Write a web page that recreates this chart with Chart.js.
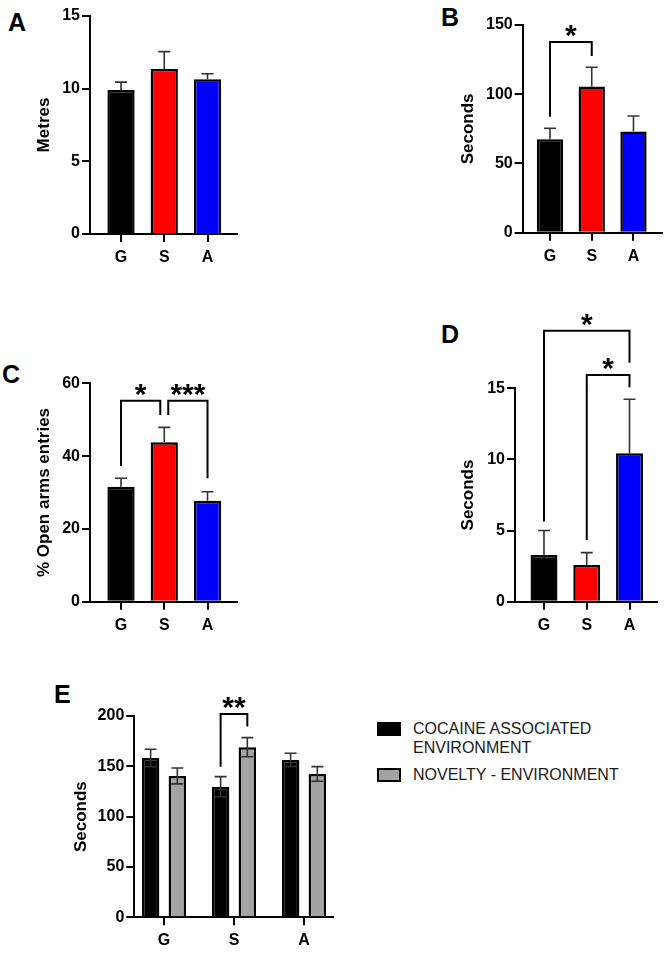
<!DOCTYPE html>
<html lang="en">
<head>
<meta charset="UTF-8">
<title>Behavioural panels A-E</title>
<script src="https://cdn.jsdelivr.net/npm/chart.js"></script>
<style>
body {
  margin: 0;
  background: #fff;
  font-family: "Liberation Sans", Arial, sans-serif;
}
#page {
  position: relative;
  width: 664px;
  height: 955px;
  overflow: hidden;
  background: #fff;
}
canvas { position: absolute; }
.panel-letter {
  position: absolute;
  font-weight: bold;
  font-size: 25px;
  line-height: 25px;
  color: #000;
}
#legend {
  position: absolute;
  left: 377px;
  top: 719px;
  font-size: 16px;
  line-height: 19.2px;
  color: #1a1a1a;
}
.legend-row { display: flex; align-items: flex-start; margin-bottom: 8px; }
.swatch {
  width: 24px;
  height: 14px;
  box-sizing: border-box;
  border: 2.5px solid #000;
  margin-top: 2.5px;
  margin-right: 12px;
  flex: none;
}
.legend-text { width: 240px; }
</style>
</head>
<body>
<div id="page">
  <div class="panel-letter" style="left:8px;top:10px">A</div>
  <div class="panel-letter" style="left:441px;top:5px">B</div>
  <div class="panel-letter" style="left:2px;top:362px">C</div>
  <div class="panel-letter" style="left:441px;top:322px">D</div>
  <div class="panel-letter" style="left:54px;top:682px">E</div>
  <div id="legend"></div>
</div>
<script>
// groups on every x axis
var groups = ['G', 'S', 'A'];

// A - distance travelled (metres)
var distanceMean = [9.9, 11.35, 10.65];
var distanceSem = [0.55, 1.2, 0.38];
var distanceTicks = [0, 5, 10, 15];

// B - seconds
var timeBMean = [67.5, 105.5, 73];
var timeBSem = [7.9, 14, 11.3];
var timeBTicks = [0, 50, 100, 150];

// C - % open arms entries
var openArmsMean = [31.6, 43.8, 27.7];
var openArmsSem = [2.3, 4.1, 2.5];
var openArmsTicks = [0, 20, 40, 60];

// D - seconds
var timeDMean = [3.28, 2.58, 10.43];
var timeDSem = [1.72, 0.87, 3.8];
var timeDTicks = [0, 5, 10, 15];

// E - place preference, two environments
var seriesNames = ['COCAINE ASSOCIATED ENVIRONMENT', 'NOVELTY - ENVIRONMENT'];
var cocaineMean = [158.3, 129.8, 156.4];
var cocaineSem = [8.7, 10, 6.6];
var noveltyMean = [140.5, 169, 142.4];
var noveltySem = [7.9, 9.5, 7.3];
var placeTicks = [0, 50, 100, 150, 200];

// significance brackets: [dataset, bar] ends, heights in axis units
var bracketsB = [{ from: [0, 0], to: [0, 1], top: 137.8, fromEnd: 83.8, toEnd: 127.7, label: '*' }];
var bracketsC = [
  { from: [0, 0], to: [0, 1], top: 55.2, fromEnd: 37.3, toEnd: 51.3, label: '*' },
  { from: [0, 1], to: [0, 2], top: 55.2, fromEnd: 51.3, toEnd: 33.9, label: '***' }
];
var bracketsD = [
  { from: [0, 0], to: [0, 2], top: 19.04, fromEnd: 5.63, toEnd: 16.8, label: '*' },
  { from: [0, 1], to: [0, 2], top: 15.94, fromEnd: 4.34, toEnd: 15.08, label: '*' }
];
var bracketsE = [{ from: [0, 1], to: [1, 1], top: 202.1, fromEnd: 149.7, toEnd: 189.5, label: '**' }];

var groupColors = ['#000000', '#ff0000', '#0000ff'];
var seriesColors = ['#000000', '#a3a3a3'];
var FONT = "'Liberation Sans', Arial, sans-serif";

var errorBars = {
  id: 'errorBars',
  afterDatasetsDraw: function(chart) {
    var ctx = chart.ctx;
    var ys = chart.scales.y;
    chart.data.datasets.forEach(function(ds, di) {
      var meta = chart.getDatasetMeta(di);
      meta.data.forEach(function(bar, i) {
        var v = ds.data[i].y, e = ds.errors[i];
        var x = bar.x;
        var top = ys.getPixelForValue(v + e);
        var bot = ys.getPixelForValue(v - e);
        ctx.save();
        ctx.strokeStyle = '#333';
        ctx.lineWidth = 1.6;
        ctx.beginPath();
        ctx.moveTo(x, ds.errorDir === 'both' ? bot : bar.y);
        ctx.lineTo(x, top);
        ctx.moveTo(x - 6, top);
        ctx.lineTo(x + 6, top);
        if (ds.errorDir === 'both') {
          ctx.moveTo(x - 6, bot);
          ctx.lineTo(x + 6, bot);
        }
        ctx.stroke();
        ctx.restore();
      });
    });
  }
};

var brackets = {
  id: 'brackets',
  afterDraw: function(chart, args, opts) {
    var items = opts.items || [];
    if (!items.length) return;
    var ctx = chart.ctx;
    var ys = chart.scales.y;
    var key = function(p) { return p[0] + ':' + p[1]; };
    items.forEach(function(b) {
      var p1 = chart.getDatasetMeta(b.from[0]).data[b.from[1]];
      var p2 = chart.getDatasetMeta(b.to[0]).data[b.to[1]];
      var x1 = p1.x, x2 = p2.x;
      // nudge legs apart where one bracket ends and the next begins
      items.forEach(function(o) {
        if (o === b) return;
        if (key(o.to) === key(b.from)) x1 += 4;
        if (key(o.from) === key(b.to)) x2 -= 4;
      });
      var yTop = ys.getPixelForValue(b.top);
      ctx.save();
      ctx.strokeStyle = '#000';
      ctx.lineWidth = 2;
      ctx.beginPath();
      ctx.moveTo(x1, ys.getPixelForValue(b.fromEnd));
      ctx.lineTo(x1, yTop);
      ctx.lineTo(x2, yTop);
      ctx.lineTo(x2, ys.getPixelForValue(b.toEnd));
      ctx.stroke();
      ctx.fillStyle = '#000';
      ctx.font = 'bold 30px ' + FONT;
      ctx.textAlign = 'center';
      ctx.textBaseline = 'alphabetic';
      ctx.fillText(b.label, (x1 + x2) / 2, yTop - 14 + 0.56 * 30);
      ctx.restore();
    });
  }
};

function axisBase() {
  return {
    offset: false,
    grid: { display: true, offset: false, drawOnChartArea: false, drawTicks: true, tickLength: 8, color: '#000', lineWidth: 2 },
    border: { display: true, color: '#000', width: 2 }
  };
}

function makePanel(cfg) {
  var page = document.getElementById('page');
  var c = document.createElement('canvas');
  c.width = cfg.box.w;
  c.height = cfg.box.h;
  c.style.left = cfg.box.x + 'px';
  c.style.top = cfg.box.y + 'px';
  page.appendChild(c);

  var a = cfg.area;
  var padLeft = cfg.titleX - cfg.box.x - 10.2 - 4;
  var yWidth = a.l - cfg.box.x - padLeft;
  var xHeight = 30;

  var x = axisBase();
  x.type = 'linear';
  x.min = cfg.xMin;
  x.max = cfg.xMax;
  x.afterBuildTicks = function(s) { s.ticks = groups.map(function(g, i) { return { value: i }; }); };
  x.afterFit = function(s) { s.height = xHeight; };
  x.ticks = {
    color: '#000', padding: 6, autoSkip: false, maxRotation: 0,
    font: { family: FONT, size: 16, weight: 'bold' },
    callback: function(v) { return groups[Math.round(v)]; }
  };

  var y = axisBase();
  y.min = cfg.yTicks[0];
  y.max = cfg.yTicks[cfg.yTicks.length - 1];
  y.afterBuildTicks = function(s) { s.ticks = cfg.yTicks.map(function(t) { return { value: t }; }); };
  y.afterFit = function(s) { s.width = yWidth; };
  y.ticks = { color: '#000', padding: 2, font: { family: FONT, size: 16, weight: 'bold' } };
  y.title = {
    display: true, text: cfg.yTitle, color: '#000',
    font: { family: FONT, size: 17, weight: 'bold', lineHeight: 1.2 },
    padding: { top: 4, bottom: 0 }
  };

  return new Chart(c, {
    type: 'bar',
    data: { datasets: cfg.datasets },
    options: {
      responsive: false,
      animation: false,
      devicePixelRatio: 1,
      layout: {
        padding: {
          left: padLeft,
          top: a.t - cfg.box.y,
          right: cfg.box.x + cfg.box.w - a.r,
          bottom: cfg.box.y + cfg.box.h - a.b - xHeight
        }
      },
      plugins: {
        legend: { display: false },
        tooltip: { enabled: false },
        brackets: { items: cfg.brackets || [] }
      },
      scales: { x: x, y: y }
    },
    plugins: [errorBars, brackets]
  });
}

function groupSet(mean, sem) {
  return {
    data: mean.map(function(v, i) { return { x: i, y: v }; }),
    errors: sem,
    errorDir: 'up',
    backgroundColor: groupColors,
    borderColor: '#000',
    borderWidth: 2.5,
    barPercentage: 0.63,
    categoryPercentage: 1
  };
}

makePanel({
  box: { x: 0, y: 0, w: 330, h: 270 },
  area: { l: 90, t: 16, r: 237, b: 234 },
  titleX: 44.5, xMin: -0.717, xMax: 2.682,
  yTicks: distanceTicks, yTitle: 'Metres',
  datasets: [groupSet(distanceMean, distanceSem)]
});

makePanel({
  box: { x: 330, y: 0, w: 334, h: 270 },
  area: { l: 522.7, t: 25, r: 662, b: 232.7 },
  titleX: 468, xMin: -0.654, xMax: 2.683,
  yTicks: timeBTicks, yTitle: 'Seconds',
  datasets: [groupSet(timeBMean, timeBSem)],
  brackets: bracketsB
});

makePanel({
  box: { x: 0, y: 290, w: 330, h: 345 },
  area: { l: 90, t: 383.3, r: 236.5, b: 601.7 },
  titleX: 44.5, xMin: -0.717, xMax: 2.67,
  yTicks: openArmsTicks, yTitle: '% Open arms entries',
  datasets: [groupSet(openArmsMean, openArmsSem)],
  brackets: bracketsC
});

makePanel({
  box: { x: 330, y: 290, w: 334, h: 345 },
  area: { l: 515, t: 388.3, r: 656.7, b: 601.7 },
  titleX: 468, xMin: -0.678, xMax: 2.636,
  yTicks: timeDTicks, yTitle: 'Seconds',
  datasets: [groupSet(timeDMean, timeDSem)],
  brackets: bracketsD
});

makePanel({
  box: { x: 0, y: 640, w: 360, h: 315 },
  area: { l: 134.3, t: 716, r: 333.3, b: 917.3 },
  titleX: 81.5, xMin: -0.424, xMax: 2.419,
  yTicks: placeTicks, yTitle: 'Seconds',
  datasets: [cocaineMean, noveltyMean].map(function(mean, k) {
    return {
      label: seriesNames[k],
      data: mean.map(function(v, i) { return { x: i, y: v }; }),
      errors: [cocaineSem, noveltySem][k],
      errorDir: 'both',
      backgroundColor: seriesColors[k],
      borderColor: '#000',
      borderWidth: 2.5,
      barPercentage: 0.655,
      categoryPercentage: 0.763
    };
  }),
  brackets: bracketsE
});

// legend for panel E
var legend = document.getElementById('legend');
seriesNames.forEach(function(name, k) {
  var row = document.createElement('div');
  row.className = 'legend-row';
  var sw = document.createElement('div');
  sw.className = 'swatch';
  sw.style.background = seriesColors[k];
  var tx = document.createElement('div');
  tx.className = 'legend-text';
  tx.textContent = name;
  row.appendChild(sw);
  row.appendChild(tx);
  legend.appendChild(row);
});
</script>
</body>
</html>
